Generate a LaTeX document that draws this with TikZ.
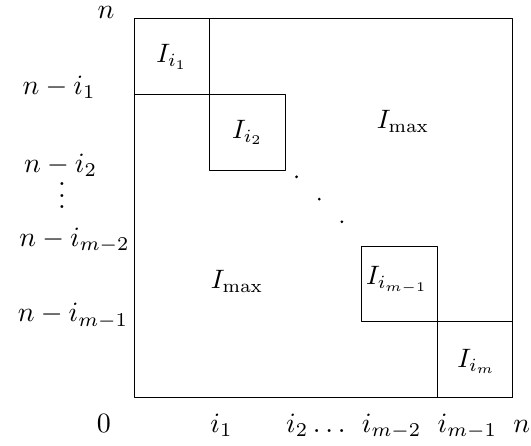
\documentclass[tikz,border=0pt]{standalone}
\begin{document}
\begin{tikzpicture}[line join=round,lbl/.style={inner sep=0pt,scale=1.05}]
				\useasboundingbox (-1.77,-0.63) rectangle (5.24,5.25);
				\draw (0,0) rectangle (5,5);
				% diagonal blocks
				\foreach \x/\y in {0/4, 1/3, 3/1, 4/0} \draw (\x,\y) rectangle ++(1,1);
				\node (b1) at (0.5,4.5) {$I_{i_1}$};
				\node (b2) at (1.5,3.5) {$I_{i_2}$};
				\node (bm1) at (3.47,1.55) {$I_{i_{m-1}}$};
				\node (bm) at (4.52,0.48) {$I_{i_m}$};
				\node (up) at (3.55,3.65) {$I_{\max}$};
				\node (lo) at (1.36,1.53) {$I_{\max}$};
				\foreach \i/\p in {1/{(2.145,2.916)}, 2/{(2.445,2.621)}, 3/{(2.744,2.322)}}
					\fill \p circle(.02) coordinate (d\i);
				% row labels
				\node[lbl,anchor=base] (rn) at (-0.37,5) {$n$};
				\node[lbl,anchor=base east] (r1) at (-0.5,4) {$n-i_1$};
				\node[lbl,anchor=base east] (r2) at (-0.48,2.97) {$n-i_2$};
				\node[lbl,text height=8.5pt,text depth=0pt,anchor=base] (rd) at (-0.95,2.5) {$\smash{\vdots}$};
				\node[lbl,anchor=base east] (r3) at (-0.05,2) {$n-i_{m-2}$};
				\node[lbl,anchor=base east] (r4) at (-0.07,1) {$n-i_{m-1}$};
				% column labels
				\node[lbl,anchor=base] (c0) at (-0.4,-0.46) {$0$};
				\foreach \x/\t in {1/i_1, 2/i_2\ldots, 3/i_{m-2}, 4/i_{m-1}, 5/n}
					\node[lbl,anchor=base west] (c\x) at (\x,-0.46) {$\t$};
\end{tikzpicture}
\end{document}
